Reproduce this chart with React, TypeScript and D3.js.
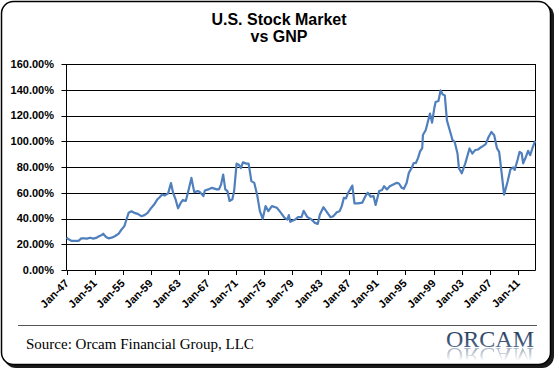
import React from 'react';
import * as d3 from 'd3';

const years = [
  1947.0, 1947.3, 1947.75, 1948.2, 1948.7, 1949.1, 1949.55, 1949.9, 1950.35, 1950.8,
  1951.3, 1951.6, 1952.0, 1952.2, 1952.6, 1952.95, 1953.4, 1953.9, 1954.4, 1954.8,
  1955.2, 1955.5, 1955.8, 1956.2, 1956.6, 1957.1, 1957.6, 1958.05, 1958.5, 1959.0,
  1959.5, 1959.9, 1960.2, 1960.55, 1960.9, 1961.4, 1961.8, 1962.1, 1962.45, 1962.8,
  1963.2, 1963.5, 1963.9, 1964.2, 1964.7, 1965.1, 1965.6, 1965.9, 1966.4, 1966.6,
  1967.1, 1967.6, 1968.3, 1968.6, 1968.9, 1969.2, 1969.5, 1969.8, 1970.1, 1970.5,
  1970.75, 1971.1, 1971.4, 1971.7, 1972.0, 1972.5, 1972.8, 1973.2, 1973.6, 1974.0,
  1974.4, 1974.8, 1975.2, 1975.6, 1976.1, 1976.8, 1977.2, 1977.9, 1978.3, 1978.5,
  1978.7, 1979.4, 1979.8, 1980.3, 1980.6, 1981.1, 1981.7, 1982.2, 1982.6, 1982.9,
  1983.4, 1983.8, 1984.4, 1984.8, 1985.3, 1985.7, 1986.0, 1986.3, 1986.6, 1986.9,
  1987.2, 1987.5, 1987.8, 1988.3, 1988.9, 1989.4, 1989.7, 1990.1, 1990.5, 1990.8,
  1991.3, 1991.7, 1992.0, 1992.4, 1992.8, 1993.3, 1993.8, 1994.1, 1994.5, 1994.8,
  1995.2, 1995.5, 1995.9, 1996.2, 1996.5, 1996.8, 1997.1, 1997.4, 1997.5, 1997.9,
  1998.2, 1998.5, 1998.8, 1999.1, 1999.3, 1999.7, 2000.0, 2000.3, 2000.6, 2000.9,
  2001.3, 2001.7, 2002.0, 2002.4, 2002.6, 2003.0, 2003.5, 2004.1, 2004.5, 2004.9,
  2005.3, 2005.8, 2006.0, 2006.4, 2006.8, 2007.2, 2007.6, 2008.0, 2008.3, 2008.6,
  2009.0, 2009.5, 2009.9, 2010.3, 2010.5, 2010.9, 2011.2, 2011.5, 2011.7, 2012.1,
  2012.4, 2012.7, 2013.0, 2013.4,
];

const values = [
  25.1, 23.8, 22.6, 22.6, 22.6, 24.6, 24.6, 24.4, 25.1, 24.4,
  25.1, 26.2, 27.2, 28.2, 25.6, 24.6, 25.1, 26.4, 28.2, 31.5,
  34.1, 39.2, 44.4, 45.6, 44.4, 43.6, 41.8, 42.6, 44.4, 48.2,
  51.5, 55.0, 56.5, 58.7, 57.9, 59.5, 67.5, 60.0, 54.9, 47.9,
  52.3, 54.4, 53.6, 60.0, 71.5, 60.5, 61.3, 60.5, 57.4, 61.8,
  62.6, 63.8, 62.6, 62.6, 66.4, 74.1, 62.6, 61.3, 53.6, 54.9,
  61.3, 82.6, 81.8, 79.2, 83.6, 82.6, 82.6, 69.0, 67.7, 58.7,
  45.7, 39.7, 49.6, 45.7, 49.6, 48.3, 45.7, 40.5, 39.2, 42.6,
  37.4, 39.2, 41.0, 41.0, 46.0, 41.3, 39.2, 36.6, 35.8, 43.1,
  48.8, 45.7, 41.0, 41.8, 44.9, 45.7, 49.6, 56.1, 55.6, 60.0,
  62.6, 65.6, 51.8, 51.8, 52.3, 57.9, 60.0, 56.9, 57.4, 50.5,
  61.3, 62.1, 65.1, 62.6, 65.1, 66.4, 67.7, 67.2, 63.8, 63.1,
  67.7, 75.4, 79.2, 83.1, 83.1, 86.9, 92.1, 94.6, 104.9, 108.7,
  115.1, 121.5, 114.4, 125.4, 130.5, 131.3, 139.5, 136.4, 135.6, 116.2,
  108.5, 100.8, 99.5, 90.5, 79.0, 75.1, 82.8, 94.4, 90.5, 93.1,
  93.6, 95.6, 96.2, 97.7, 103.3, 107.2, 104.6, 94.4, 91.8, 77.7,
  58.5, 68.7, 78.2, 79.7, 77.7, 85.4, 91.8, 90.5, 82.8, 88.0,
  92.6, 89.2, 94.4, 100.3,
];

const yTicks = [0, 20, 40, 60, 80, 100, 120, 140, 160];
const xTickYears = [1947, 1951, 1955, 1959, 1963, 1967, 1971, 1975, 1979, 1983, 1987, 1991, 1995, 1999, 2003, 2007, 2011];
const xTickLabels = ['Jan-47', 'Jan-51', 'Jan-55', 'Jan-59', 'Jan-63', 'Jan-67', 'Jan-71', 'Jan-75', 'Jan-79', 'Jan-83', 'Jan-87', 'Jan-91', 'Jan-95', 'Jan-99', 'Jan-03', 'Jan-07', 'Jan-11'];
const titleLines = ['U.S. Stock Market', 'vs GNP'];
const sourceText = 'Source: Orcam Financial Group, LLC';
const logoText = 'ORCAM';

export default function App() {
  const W = 556;
  const H = 370;
  const left = 66.5;
  const right = 535.5;
  const top = 64;
  const bottom = 270;

  const x = d3.scaleLinear().domain([1947, 2013.45]).range([left, right]);
  const y = d3.scaleLinear().domain([0, 160]).range([bottom, top]);
  const fmt = (v: number) => v.toFixed(2) + '%';
  const line = d3
    .line<number>()
    .x((_, i) => x(years[i]))
    .y((d) => y(d))
    .curve(d3.curveLinear);

  const sy = (v: number) => Math.round(y(v)) + 0.5;
  const font = 'Arial, "Liberation Sans", sans-serif';
  const serif = '"Liberation Serif", "Times New Roman", serif';

  return (
    <svg width={W} height={H} style={{ position: 'absolute', left: 0, top: 0, background: '#fff' }}>
      <defs>
        <linearGradient id="logoGrad" x1="0" y1="0" x2="0" y2="1">
          <stop offset="0" stopColor="#1a2f50" />
          <stop offset="1" stopColor="#5a7392" />
        </linearGradient>
        <linearGradient id="fadeGrad" x1="0" y1="0" x2="0" y2="1">
          <stop offset="0" stopColor="#fff" stopOpacity="0.55" />
          <stop offset="0.85" stopColor="#fff" stopOpacity="0" />
        </linearGradient>
        <mask id="reflMask" maskUnits="userSpaceOnUse" x="430" y="347" width="120" height="18">
          <rect x={430} y={347} width={120} height={16} fill="url(#fadeGrad)" />
        </mask>
      </defs>
      <rect x={0} y={0} width={W} height={H} fill="#fff" />
      {/* shadow + frame */}
      <rect x={4} y={4} width={550} height={364} rx={12} fill="#1a1a1a" />
      <rect x={1.5} y={1.5} width={549} height={363} rx={12} fill="#fff" stroke="#000" strokeWidth={1.5} />

      {/* title */}
      <text x={279} y={25} textAnchor="middle" fontFamily={font} fontWeight="bold" fontSize={16} fill="#000">
        {titleLines[0]}
      </text>
      <text x={279} y={41.5} textAnchor="middle" fontFamily={font} fontWeight="bold" fontSize={16} fill="#000">
        {titleLines[1]}
      </text>

      {/* gridlines */}
      {yTicks.map((t) => (
        <line key={'g' + t} x1={left} x2={right} y1={sy(t)} y2={sy(t)} stroke="#000" strokeWidth={1} />
      ))}
      {/* y ticks and labels */}
      {yTicks.map((t) => (
        <g key={'y' + t}>
          <line x1={left - 5} x2={left} y1={sy(t)} y2={sy(t)} stroke="#000" strokeWidth={1} />
          <text x={54} y={y(t)} dy="0.35em" textAnchor="end" fontFamily={font} fontWeight="bold" fontSize={11} fill="#000">
            {fmt(t)}
          </text>
        </g>
      ))}
      {/* axes */}
      <line x1={left} x2={left} y1={top} y2={bottom + 0.5} stroke="#000" strokeWidth={1} />
      <line x1={right} x2={right} y1={top} y2={bottom + 0.5} stroke="#000" strokeWidth={1} />
      {/* x ticks and labels */}
      {xTickYears.map((yr, i) => {
        const px = Math.round(x(yr)) + 0.5;
        return (
          <g key={'x' + yr}>
            <line x1={px} x2={px} y1={bottom} y2={bottom + 5} stroke="#000" strokeWidth={1} />
            <text
              transform={`translate(${px + 2},${bottom + 14}) rotate(-45)`}
              textAnchor="end"
              fontFamily={font}
              fontWeight="bold"
              fontSize={11}
              fill="#000"
            >
              {xTickLabels[i]}
            </text>
          </g>
        );
      })}

      {/* data line */}
      <path d={line(values) || ''} fill="none" stroke="#4f7fbc" strokeWidth={2.2} strokeLinejoin="round" />

      {/* footer */}
      <line x1={18} x2={537} y1={325.5} y2={325.5} stroke="#555" strokeWidth={1} />
      <text x={26} y={349} fontFamily={serif} fontSize={15} fill="#000">
        {sourceText}
      </text>
      <text
        id="orcamLogo"
        x={446}
        y={347}
        fontFamily={serif}
        fontSize={24}
        fill="url(#logoGrad)"
        textLength={88}
        lengthAdjust="spacingAndGlyphs"
      >
        {logoText}
      </text>
      <g mask="url(#reflMask)">
        <use href="#orcamLogo" transform="translate(0,695) scale(1,-1)" />
      </g>
    </svg>
  );
}
